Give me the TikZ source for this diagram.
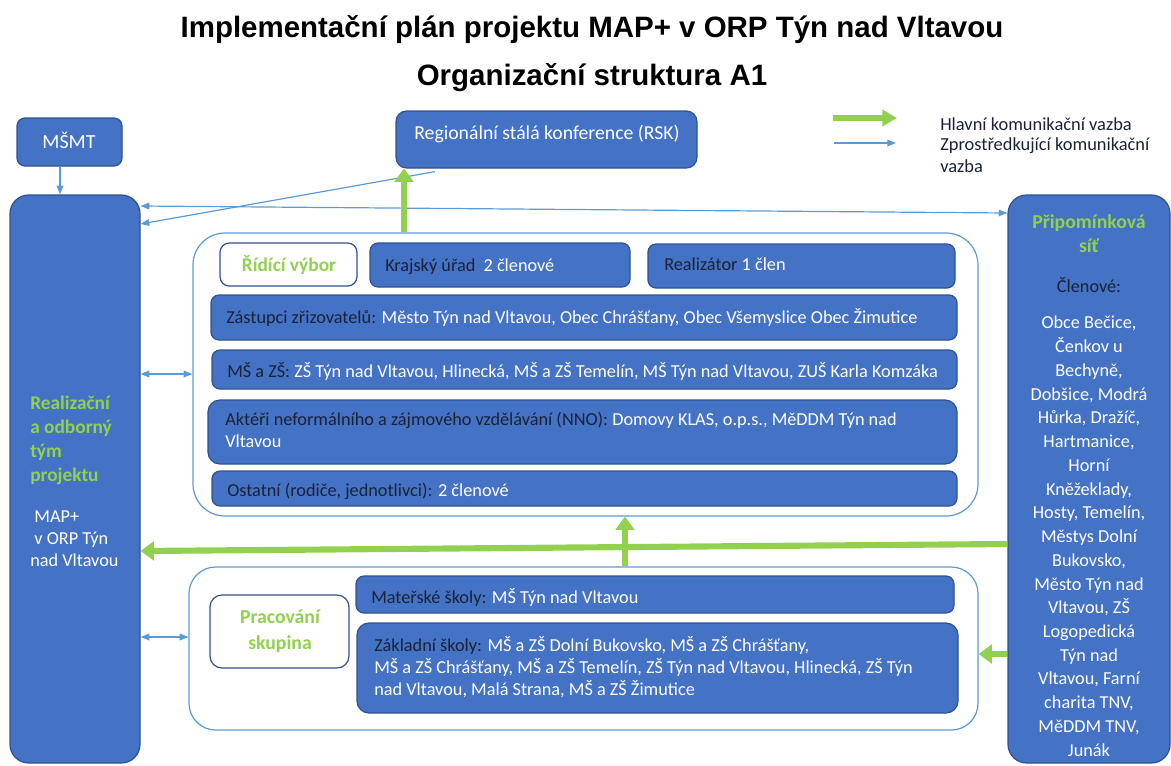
\documentclass[tikz,border=0pt]{standalone}
\usepackage{fontspec}
\setmainfont{Carlito}
\newfontfamily\titlefont{Liberation Sans}
\usetikzlibrary{arrows.meta,fit,calc}
\definecolor{boxblue}{HTML}{4472C4}
\definecolor{boxedge}{HTML}{2F528F}
\definecolor{lgreen}{HTML}{92D050}
\definecolor{lblue}{HTML}{5B9BD5}
\definecolor{dk}{HTML}{1B2238}
\newcommand{\dkt}[1]{\textcolor{dk}{#1}}
\tikzset{
  bluebox/.style={draw=boxedge, line width=0.9pt, fill=boxblue, rounded corners=6pt, inner sep=0pt},
  sidebox/.style={draw=boxedge, line width=0.9pt, fill=boxblue, rounded corners=14pt, inner sep=0pt},
  whitebox/.style={draw=boxedge, line width=0.9pt, fill=white, rounded corners=7pt, inner sep=0pt},
  group/.style={draw=lblue, line width=0.9pt, fill=white, rounded corners=24pt, inner sep=0pt},
  txt/.style={text=white, font=\fontsize{13.7}{16.5}\selectfont, inner sep=0pt, align=left},
  gtxt/.style={text=lgreen, font=\fontsize{14.5}{17.8}\selectfont\bfseries, inner sep=0pt},
  mainarrow/.style={draw=lgreen, line width=4.6pt, -{Triangle[width=14pt,length=10pt]}},
  subarrow/.style={draw=lblue, line width=0.9pt, -{Triangle[width=5pt,length=6.5pt]}},
  subboth/.style={draw=lblue, line width=0.9pt, {Triangle[width=5pt,length=6.5pt]}-{Triangle[width=5pt,length=6.5pt]}},
}
\begin{document}
\begin{tikzpicture}[x=0.75pt,y=-0.75pt]
\useasboundingbox (0,0) rectangle (1171,765);
% titles
\node[font=\titlefont\bfseries\fontsize{22.1}{26}\selectfont] (title1) at (592,30) {Implementační plán projektu MAP+ v ORP Týn nad Vltavou};
\node[font=\titlefont\bfseries\fontsize{22.1}{26}\selectfont] (title2) at (592,78) {Organizační struktura A1};
% top boxes
\node[bluebox, fit={(17,118)(122,166)}] (msmt) {};
\node[txt, font=\fontsize{15}{18}\selectfont] (msmt-t) at (69,140) {MŠMT};
\node[bluebox, rounded corners=8pt, fit={(396,111)(697,168)}] (rsk) {};
\node[txt, font=\fontsize{14.8}{18}\selectfont] (rsk-t) at (547,134) {Regionální stálá konference (RSK)};
% legend
\coordinate (lg1a) at (833,118);
\coordinate (lg1b) at (897,118);
\coordinate (lg2a) at (834,143);
\coordinate (lg2b) at (896,143);
\draw[mainarrow, line width=3.8pt, -{Triangle[width=12pt,length=11pt]}] (lg1a) -- (lg1b);
\draw[subarrow] (lg2a) -- (lg2b);
\node[txt, text=dk, anchor=west, font=\fontsize{13.8}{16.5}\selectfont] (leg1) at (940,124) {Hlavní komunikační vazba};
\node[txt, text=dk, anchor=north west, font=\fontsize{13.8}{16.5}\selectfont] (leg2) at (940,137) {Zprostředkující komunikační\\vazba};
% side boxes
\node[sidebox, fit={(10,195)(140,763)}] (left) {};
\node[gtxt, anchor=north west, align=left] (left-g) at (30,396) {Realizační\\a odborný\\tým\\projektu};
\node[txt, anchor=north west] (left-w) at (30,511) {\ MAP+\\\ v ORP Týn\\nad Vltavou};
\node[sidebox, fit={(1008,195)(1170,763)}] (right) {};
\node[gtxt, anchor=north, align=center, font=\fontsize{14.8}{18.5}\selectfont\bfseries] (right-g) at (1089,214) {Připomínková\\síť};
\node[txt, text=dk, anchor=north] (right-c) at (1089,277) {Členové:};
\node[txt, anchor=north, align=center, font=\fontsize{13.7}{17.8}\selectfont] (right-l) at (1089,316) {Obce Bečice,\\Čenkov u\\Bechyně,\\Dobšice, Modrá\\Hůrka, Dražíč,\\Hartmanice,\\Horní\\Kněžeklady,\\Hosty, Temelín,\\Městys Dolní\\Bukovsko,\\Město Týn nad\\Vltavou, ZŠ\\Logopedická\\Týn nad\\Vltavou, Farní\\charita TNV,\\MěDDM TNV,\\Junák};
% group 1
\node[group, fit={(193,233)(978,516)}] (grp1) {};
\node[whitebox, fit={(220,243)(357,286)}] (rv) {};
\node[gtxt] (rv-t) at (289,265) {Řídící výbor};
\node[bluebox, fit={(370,243)(630,287)}] (kraj) {};
\node[txt, anchor=base west] (kraj-t) at (385,271) {\dkt{Krajský úřad}\ \ 2 členové};
\node[bluebox, fit={(648,244)(955,288)}] (real) {};
\node[txt, anchor=base west] (real-t) at (664,270) {\dkt{Realizátor} 1 člen};
\node[bluebox, fit={(211,295)(957,340)}] (zast) {};
\node[txt, anchor=west] (zast-t) at (226,317) {\dkt{Zástupci zřizovatelů:} Město Týn nad Vltavou, Obec Chrášťany, Obec Všemyslice Obec Žimutice};
\node[bluebox, fit={(212,350)(957,389)}] (msz) {};
\node[txt, anchor=west] (msz-t) at (227,371) {\dkt{MŠ a ZŠ:} ZŠ Týn nad Vltavou, Hlinecká, MŠ a ZŠ Temelín, MŠ Týn nad Vltavou, ZUŠ Karla Komzáka};
\node[bluebox, rounded corners=9pt, fit={(208,400)(957,464)}] (akt) {};
\node[txt, anchor=north west] (akt-t) at (225,412) {\dkt{Aktéři neformálního a zájmového vzdělávání (NNO):} Domovy KLAS, o.p.s., MěDDM Týn nad\\Vltavou};
\node[bluebox, fit={(212,471)(957,506)}] (ost) {};
\node[txt, anchor=west] (ost-t) at (227,491) {\dkt{Ostatní (rodiče, jednotlivci):} 2 členové};
% group 2
\node[group, rounded corners=20pt, fit={(189,567)(978,730)}] (grp2) {};
\node[whitebox, rounded corners=9pt, fit={(210,595)(349,668)}] (ps) {};
\node[gtxt, align=center, font=\fontsize{14.8}{19.5}\selectfont\bfseries] (ps-t) at (280,631) {Pracování\\skupina};
\node[bluebox, fit={(356,576)(954,613)}] (mat) {};
\node[txt, anchor=west] (mat-t) at (371,597) {\dkt{Mateřské školy:} MŠ Týn nad Vltavou};
\node[bluebox, rounded corners=9pt, fit={(357,623)(958,713)}] (zak) {};
\node[txt, anchor=north west] (zak-t) at (374,636) {\dkt{Základní školy:} MŠ a ZŠ Dolní Bukovsko, MŠ a ZŠ Chrášťany,\\MŠ a ZŠ Chrášťany, MŠ a ZŠ Temelín, ZŠ Týn nad Vltavou, Hlinecká, ZŠ Týn\\nad Vltavou, Malá Strana, MŠ a ZŠ Žimutice};
% connectors
\draw[subarrow] (msmt.south -| 60,0) -- (left.north -| 60,0);
\draw[subboth] (left.east |- 0,206) -- (right.west |- 0,213);
\draw[subarrow] (rsk.south -| 435,0) ++(0,3) -- (left.east |- 0,224);
\draw[mainarrow] (grp1.north -| 404,0) -- (rsk.south -| 404,0);
\draw[subboth] (left.east |- 0,374) -- (grp1.west |- 0,374);
\draw[mainarrow] (right.west |- 0,544) -- (left.east |- 0,551);
\draw[mainarrow] (grp2.north -| 625,0) -- (grp1.south -| 625,0);
\draw[subboth] (left.east |- 0,637) -- (grp2.west |- 0,637);
\draw[mainarrow] (right.west |- 0,654) -- (grp2.east |- 0,654);
\end{tikzpicture}
\end{document}
